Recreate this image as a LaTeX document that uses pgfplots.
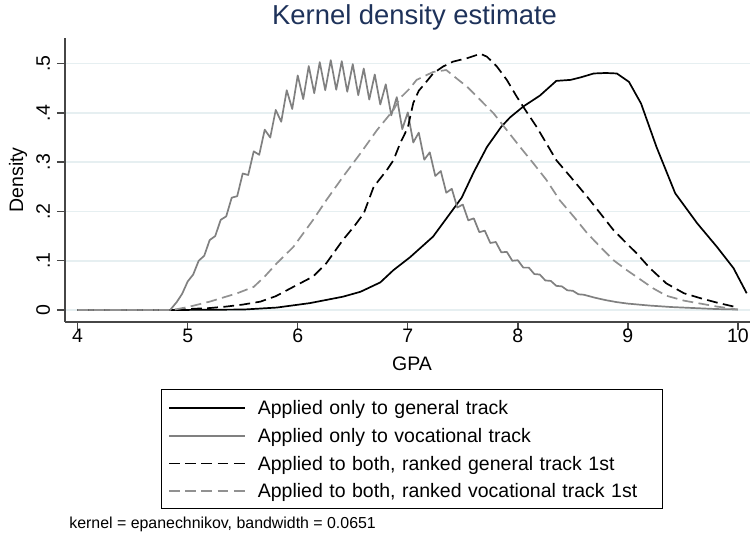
\documentclass[border=0pt]{standalone}
\usepackage{pgfplots}
\pgfplotsset{compat=1.18}
\usepackage{fontspec}
\setmainfont{Liberation Sans}
\definecolor{titleblue}{RGB}{30,50,90}
\definecolor{gridc}{RGB}{230,239,241}
\definecolor{gsolid}{RGB}{128,128,128}
\definecolor{gdash}{RGB}{145,145,145}
\definecolor{axc}{RGB}{70,70,70}
\begin{document}
\begin{tikzpicture}[x=1pt,y=1pt]
\useasboundingbox (0,0) rectangle (375.5,270);
\begin{axis}[
  at={(32.5pt,109pt)}, anchor=south west,
  scale only axis, width=342.5pt, height=142pt,
  xmin=3.885, xmax=10.11, ymin=-0.0243, ymax=0.552,
  axis x line*=bottom, axis y line*=left,
  axis line style={draw=axc, line width=0.7pt},
  xtick={4,5,6,7,8,9,10},
  ytick={0,0.1,0.2,0.3,0.4,0.5},
  yticklabels={0,.1,.2,.3,.4,.5},
  tick align=outside, major tick length=4pt,
  tick style={draw=axc, line width=0.7pt},
  ymajorgrids, grid style={draw=gridc, line width=0.8pt},
  tick label style={font=\fontsize{9.75}{11}\selectfont},
  /pgf/number format/assume math mode=true,
  xticklabel style={anchor=base},
  yticklabel style={rotate=90, anchor=base},
  xticklabel shift=6.25pt,
  yticklabel shift=3.6pt,
  xlabel={GPA}, ylabel={Density},
  label style={font=\fontsize{9.75}{11}\selectfont},
  xlabel style={at={(axis description cs:0.5066,-0.1715)}, anchor=base},
  ylabel style={at={(axis description cs:-0.0686,0.5)}, anchor=center},
  legend style={at={(axis description cs:0.5066,-0.2359)}, anchor=north,
    draw=black, line width=0.5pt, fill=white,
    inner xsep=3.5pt, inner ysep=4.2pt, row sep=4.13pt,
    font=\fontsize{9.75}{11}\selectfont,
    nodes={inner xsep=0pt, inner ysep=0pt, text width=199pt, align=left,
      text height=8.4pt, text depth=1.3pt},
    /tikz/every odd column/.append style={column sep=6pt}},
  legend cell align=left,
  legend image code/.code={\draw[#1] (0pt,-0.3pt) -- (38pt,-0.3pt);},
  every axis plot/.append style={line join=round},
]
\addplot[black, line width=0.85pt] coordinates {
(4.00,0) (4.84,0) (5.20,0.0005) (5.51,0.001) (5.81,0.005) (6.11,0.014) (6.41,0.027)
(6.57,0.037) (6.75,0.056) (6.87,0.081) (7.02,0.107) (7.23,0.149) (7.49,0.228)
(7.60,0.280) (7.72,0.331) (7.85,0.372) (7.93,0.391) (8.05,0.413) (8.20,0.435)
(8.35,0.465) (8.48,0.467) (8.57,0.472) (8.69,0.480) (8.80,0.481) (8.90,0.480)
(9.01,0.463) (9.12,0.419) (9.26,0.331) (9.43,0.237) (9.63,0.176) (9.81,0.128)
(9.96,0.085) (10.08,0.034)
};
\addlegendentry{Applied only to general track}
\addplot[gsolid, line width=0.85pt] coordinates {
(4.00,0) (4.84,0) (4.90,0.016) (4.95,0.033) (5.00,0.058) (5.05,0.072) (5.10,0.100)
(5.15,0.110) (5.20,0.142) (5.25,0.150) (5.30,0.183) (5.35,0.190) (5.40,0.228)
(5.45,0.231) (5.50,0.277) (5.55,0.274) (5.60,0.322) (5.65,0.315) (5.70,0.366)
(5.75,0.350) (5.80,0.406) (5.85,0.382) (5.90,0.446) (5.95,0.408) (6.00,0.476)
(6.05,0.428) (6.10,0.495) (6.15,0.440) (6.20,0.503) (6.25,0.446) (6.30,0.507)
(6.35,0.447) (6.40,0.505) (6.45,0.443) (6.50,0.499) (6.55,0.436) (6.60,0.490)
(6.65,0.427) (6.70,0.478) (6.75,0.417) (6.80,0.458) (6.85,0.395) (6.90,0.432)
(6.95,0.367) (7.00,0.401) (7.05,0.340) (7.10,0.360) (7.15,0.305) (7.20,0.320)
(7.25,0.272) (7.30,0.282) (7.35,0.238) (7.40,0.246) (7.45,0.208) (7.50,0.214)
(7.55,0.182) (7.60,0.186) (7.65,0.158) (7.70,0.161) (7.75,0.136) (7.80,0.138)
(7.85,0.117) (7.90,0.118) (7.95,0.100) (8.00,0.101) (8.05,0.086) (8.10,0.086)
(8.15,0.073) (8.20,0.072) (8.25,0.060) (8.30,0.059) (8.35,0.049) (8.40,0.048)
(8.45,0.040) (8.50,0.039) (8.55,0.032) (8.60,0.031) (8.70,0.025) (8.80,0.020)
(8.90,0.016) (9.00,0.013) (9.20,0.009) (9.40,0.006) (9.60,0.004) (9.80,0.002)
(10.00,0.001)
};
\addlegendentry{Applied only to vocational track}
\addplot[black, line width=0.85pt, dash pattern=on 5.4pt off 2.7pt] coordinates {
(4.00,0) (4.84,0) (5.00,0.002) (5.20,0.004) (5.35,0.007) (5.50,0.011) (5.66,0.017)
(5.80,0.028) (5.96,0.047) (6.14,0.068) (6.26,0.095) (6.41,0.142) (6.51,0.169)
(6.60,0.196) (6.69,0.250) (6.81,0.284) (6.87,0.304) (6.93,0.338) (7.00,0.370)
(7.05,0.420) (7.10,0.445) (7.15,0.458) (7.23,0.480) (7.32,0.494) (7.41,0.504)
(7.54,0.511) (7.66,0.520) (7.72,0.514) (7.81,0.494) (7.90,0.467) (7.99,0.433)
(8.08,0.402) (8.17,0.372) (8.26,0.338) (8.35,0.304) (8.48,0.270) (8.63,0.230)
(8.75,0.196) (8.87,0.162) (8.99,0.135) (9.08,0.115) (9.20,0.085) (9.35,0.054)
(9.51,0.034) (9.66,0.024) (9.81,0.015) (10.00,0.005)
};
\addlegendentry{Applied to both, ranked general track 1st}
\addplot[gdash, line width=0.85pt, dash pattern=on 5.4pt off 2.7pt] coordinates {
(4.00,0) (4.86,0) (5.00,0.006) (5.20,0.017) (5.45,0.034) (5.60,0.047) (5.70,0.068)
(5.81,0.095) (5.96,0.128) (6.14,0.183) (6.26,0.223) (6.41,0.270) (6.57,0.318)
(6.72,0.365) (6.87,0.406) (6.93,0.430) (7.02,0.450) (7.08,0.467) (7.23,0.483)
(7.35,0.487) (7.46,0.467) (7.54,0.453) (7.66,0.426) (7.78,0.399) (7.90,0.365)
(8.02,0.331) (8.14,0.298) (8.26,0.264) (8.38,0.223) (8.51,0.189) (8.63,0.156)
(8.75,0.128) (8.87,0.101) (8.99,0.081) (9.12,0.061) (9.23,0.044) (9.35,0.029)
(9.51,0.019) (9.66,0.013) (9.81,0.007) (10.00,0.001)
};
\addlegendentry{Applied to both, ranked vocational track 1st}
\end{axis}
\node[font=\fontsize{13.7}{16}\selectfont, text=titleblue, anchor=base] at (207.3,257.5) {Kernel density estimate};
\node[font=\fontsize{7.95}{9.5}\selectfont, anchor=base west, inner sep=0pt] at (34.5,5.5) {kernel = epanechnikov, bandwidth = 0.0651};
\end{tikzpicture}
\end{document}
